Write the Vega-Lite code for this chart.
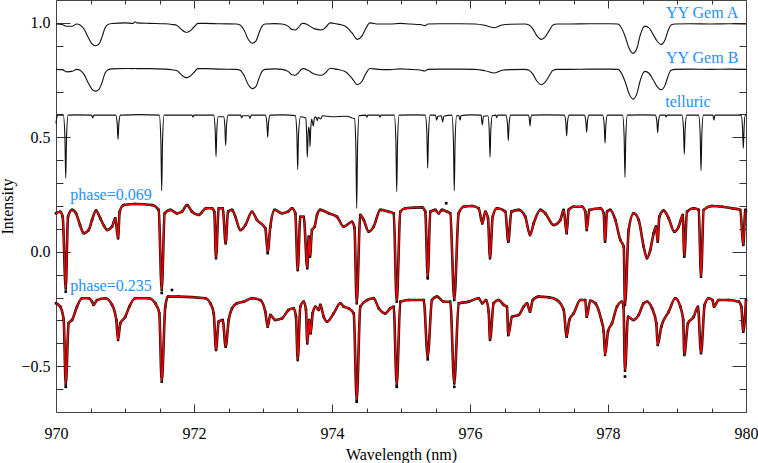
{
  "$schema": "https://vega.github.io/schema/vega-lite/v6.json",
  "width": 690,
  "height": 412,
  "autosize": {"type": "none"},
  "padding": {"left": 56, "top": 0, "right": 12, "bottom": 51},
  "background": "white",
  "config": {
    "view": {"stroke": null},
    "axis": {"grid": false, "domainColor": "#444", "tickColor": "#333", "domainWidth": 1, "tickWidth": 1,
      "labelFont": "Liberation Serif, DejaVu Serif, serif", "labelFontSize": 16, "labelColor": "#000",
      "titleFont": "Liberation Serif, DejaVu Serif, serif", "titleFontSize": 16, "titleFontWeight": "normal", "titleColor": "#000"}
  },
  "datasets": {
    "A": [
      {"w":970.000,"v":0.995},{"w":970.087,"v":0.993},{"w":970.159,"v":0.985},{"w":970.232,"v":0.985},{"w":970.300,"v":0.995},
      {"w":970.348,"v":0.991},{"w":970.406,"v":0.973},{"w":970.464,"v":0.938},{"w":970.522,"v":0.908},{"w":970.575,"v":0.900},
      {"w":970.623,"v":0.908},{"w":970.667,"v":0.938},{"w":970.710,"v":0.978},{"w":970.754,"v":0.993},{"w":970.812,"v":0.997},
      {"w":971.000,"v":1.000},{"w":971.116,"v":0.998},{"w":971.145,"v":1.005},{"w":971.174,"v":1.000},{"w":971.362,"v":0.998},
      {"w":971.580,"v":0.996},{"w":971.681,"v":0.993},{"w":971.754,"v":0.989},{"w":971.812,"v":0.973},{"w":971.870,"v":0.960},
      {"w":971.899,"v":0.959},{"w":971.942,"v":0.965},{"w":972.000,"v":0.982},{"w":972.058,"v":0.998},{"w":972.159,"v":0.998},
      {"w":972.377,"v":0.996},{"w":972.609,"v":0.995},{"w":972.667,"v":0.991},{"w":972.725,"v":0.969},{"w":972.783,"v":0.930},
      {"w":972.845,"v":0.911},{"w":972.899,"v":0.921},{"w":972.942,"v":0.956},{"w":972.986,"v":0.986},{"w":973.029,"v":0.995},
      {"w":973.174,"v":0.997},{"w":973.275,"v":0.995},{"w":973.362,"v":0.986},{"w":973.420,"v":0.971},{"w":973.464,"v":0.969},
      {"w":973.507,"v":0.978},{"w":973.565,"v":0.997},{"w":973.584,"v":0.998},{"w":973.652,"v":0.991},{"w":973.739,"v":0.975},
      {"w":973.851,"v":0.969},{"w":973.913,"v":0.982},{"w":973.971,"v":1.000},{"w":974.058,"v":0.996},{"w":974.188,"v":0.986},
      {"w":974.290,"v":0.956},{"w":974.367,"v":0.928},{"w":974.435,"v":0.943},{"w":974.493,"v":0.978},{"w":974.551,"v":1.000},
      {"w":974.667,"v":0.995},{"w":974.841,"v":0.995},{"w":974.986,"v":0.998},{"w":975.130,"v":0.995},{"w":975.275,"v":0.993},
      {"w":975.348,"v":0.988},{"w":975.391,"v":0.995},{"w":975.565,"v":0.996},{"w":975.855,"v":0.996},{"w":976.072,"v":0.995},
      {"w":976.217,"v":0.989},{"w":976.358,"v":0.979},{"w":976.464,"v":0.991},{"w":976.580,"v":0.994},{"w":976.797,"v":0.995},
      {"w":976.855,"v":0.991},{"w":976.913,"v":0.973},{"w":976.971,"v":0.943},{"w":977.033,"v":0.928},{"w":977.087,"v":0.938},
      {"w":977.145,"v":0.965},{"w":977.203,"v":0.991},{"w":977.261,"v":0.995},{"w":977.449,"v":0.995},{"w":977.739,"v":0.996},
      {"w":978.029,"v":0.996},{"w":978.145,"v":0.995},{"w":978.188,"v":0.982},{"w":978.246,"v":0.943},{"w":978.304,"v":0.890},
      {"w":978.362,"v":0.867},{"w":978.420,"v":0.890},{"w":978.464,"v":0.943},{"w":978.507,"v":0.978},{"w":978.536,"v":0.986},
      {"w":978.594,"v":0.978},{"w":978.652,"v":0.951},{"w":978.710,"v":0.921},{"w":978.772,"v":0.906},{"w":978.826,"v":0.925},
      {"w":978.870,"v":0.965},{"w":978.913,"v":0.991},{"w":978.971,"v":0.995},{"w":979.188,"v":0.996},{"w":979.478,"v":0.995},
      {"w":979.768,"v":0.996},{"w":980.000,"v":0.995}
    ],
    "B": [
      {"w":970.000,"v":0.797},{"w":970.087,"v":0.795},{"w":970.159,"v":0.786},{"w":970.232,"v":0.788},{"w":970.300,"v":0.797},
      {"w":970.348,"v":0.793},{"w":970.406,"v":0.775},{"w":970.464,"v":0.740},{"w":970.522,"v":0.710},{"w":970.575,"v":0.702},
      {"w":970.623,"v":0.710},{"w":970.667,"v":0.740},{"w":970.710,"v":0.780},{"w":970.754,"v":0.795},{"w":970.812,"v":0.799},
      {"w":971.000,"v":0.801},{"w":971.116,"v":0.800},{"w":971.145,"v":0.801},{"w":971.174,"v":0.800},{"w":971.362,"v":0.800},
      {"w":971.580,"v":0.798},{"w":971.681,"v":0.795},{"w":971.754,"v":0.791},{"w":971.812,"v":0.775},{"w":971.870,"v":0.762},
      {"w":971.899,"v":0.761},{"w":971.942,"v":0.767},{"w":972.000,"v":0.784},{"w":972.058,"v":0.800},{"w":972.159,"v":0.800},
      {"w":972.377,"v":0.798},{"w":972.609,"v":0.797},{"w":972.667,"v":0.793},{"w":972.725,"v":0.771},{"w":972.783,"v":0.732},
      {"w":972.845,"v":0.713},{"w":972.899,"v":0.723},{"w":972.942,"v":0.758},{"w":972.986,"v":0.788},{"w":973.029,"v":0.797},
      {"w":973.174,"v":0.799},{"w":973.275,"v":0.797},{"w":973.362,"v":0.788},{"w":973.420,"v":0.773},{"w":973.464,"v":0.771},
      {"w":973.507,"v":0.780},{"w":973.565,"v":0.799},{"w":973.584,"v":0.800},{"w":973.652,"v":0.793},{"w":973.739,"v":0.777},
      {"w":973.851,"v":0.771},{"w":973.913,"v":0.784},{"w":973.971,"v":0.802},{"w":974.058,"v":0.798},{"w":974.188,"v":0.788},
      {"w":974.290,"v":0.758},{"w":974.367,"v":0.730},{"w":974.435,"v":0.745},{"w":974.493,"v":0.780},{"w":974.551,"v":0.801},
      {"w":974.667,"v":0.797},{"w":974.841,"v":0.796},{"w":974.986,"v":0.799},{"w":975.130,"v":0.797},{"w":975.275,"v":0.794},
      {"w":975.348,"v":0.790},{"w":975.391,"v":0.797},{"w":975.565,"v":0.798},{"w":975.855,"v":0.798},{"w":976.072,"v":0.797},
      {"w":976.217,"v":0.791},{"w":976.358,"v":0.781},{"w":976.464,"v":0.793},{"w":976.580,"v":0.796},{"w":976.797,"v":0.797},
      {"w":976.855,"v":0.793},{"w":976.913,"v":0.775},{"w":976.971,"v":0.745},{"w":977.033,"v":0.730},{"w":977.087,"v":0.740},
      {"w":977.145,"v":0.767},{"w":977.203,"v":0.793},{"w":977.261,"v":0.797},{"w":977.449,"v":0.797},{"w":977.739,"v":0.798},
      {"w":978.029,"v":0.798},{"w":978.145,"v":0.797},{"w":978.188,"v":0.784},{"w":978.246,"v":0.745},{"w":978.304,"v":0.692},
      {"w":978.362,"v":0.667},{"w":978.420,"v":0.692},{"w":978.464,"v":0.745},{"w":978.507,"v":0.780},{"w":978.536,"v":0.788},
      {"w":978.594,"v":0.780},{"w":978.652,"v":0.753},{"w":978.710,"v":0.723},{"w":978.772,"v":0.708},{"w":978.826,"v":0.727},
      {"w":978.870,"v":0.767},{"w":978.913,"v":0.793},{"w":978.971,"v":0.797},{"w":979.188,"v":0.798},{"w":979.478,"v":0.797},
      {"w":979.768,"v":0.798},{"w":980.000,"v":0.797}
    ],
    "T": [
      {"w":970.000,"v":0.560},{"w":970.010,"v":0.585},{"w":970.030,"v":0.597},{"w":970.106,"v":0.597},{"w":970.129,"v":0.501},
      {"w":970.141,"v":0.322},{"w":970.153,"v":0.501},{"w":970.176,"v":0.597},{"w":970.300,"v":0.598},{"w":970.515,"v":0.597},
      {"w":970.532,"v":0.585},{"w":970.549,"v":0.597},{"w":970.864,"v":0.597},{"w":970.887,"v":0.560},{"w":970.899,"v":0.491},
      {"w":970.911,"v":0.560},{"w":970.934,"v":0.597},{"w":971.200,"v":0.599},{"w":971.497,"v":0.597},{"w":971.520,"v":0.482},
      {"w":971.532,"v":0.267},{"w":971.544,"v":0.482},{"w":971.567,"v":0.597},{"w":971.970,"v":0.597},{"w":971.986,"v":0.588},
      {"w":972.000,"v":0.597},{"w":972.284,"v":0.597},{"w":972.307,"v":0.533},{"w":972.319,"v":0.415},{"w":972.331,"v":0.533},
      {"w":972.350,"v":0.590},{"w":972.430,"v":0.590},{"w":972.447,"v":0.550},{"w":972.459,"v":0.464},{"w":972.471,"v":0.550},
      {"w":972.494,"v":0.597},{"w":972.675,"v":0.597},{"w":972.691,"v":0.585},{"w":972.705,"v":0.594},{"w":972.795,"v":0.594},
      {"w":972.812,"v":0.583},{"w":972.830,"v":0.597},{"w":973.033,"v":0.597},{"w":973.056,"v":0.563},{"w":973.068,"v":0.500},
      {"w":973.080,"v":0.563},{"w":973.103,"v":0.597},{"w":973.300,"v":0.598},{"w":973.468,"v":0.595},{"w":973.491,"v":0.514},
      {"w":973.503,"v":0.360},{"w":973.515,"v":0.514},{"w":973.545,"v":0.590},{"w":973.620,"v":0.585},{"w":973.632,"v":0.520},
      {"w":973.642,"v":0.413},{"w":973.655,"v":0.520},{"w":973.662,"v":0.545},{"w":973.672,"v":0.530},{"w":973.681,"v":0.459},
      {"w":973.692,"v":0.540},{"w":973.705,"v":0.580},{"w":973.729,"v":0.550},{"w":973.745,"v":0.585},{"w":973.765,"v":0.590},
      {"w":973.787,"v":0.573},{"w":973.800,"v":0.588},{"w":973.836,"v":0.580},{"w":973.860,"v":0.594},{"w":974.000,"v":0.590},
      {"w":974.200,"v":0.592},{"w":974.270,"v":0.588},{"w":974.286,"v":0.585},{"w":974.325,"v":0.582},{"w":974.346,"v":0.455},
      {"w":974.358,"v":0.190},{"w":974.370,"v":0.455},{"w":974.393,"v":0.595},{"w":974.490,"v":0.597},{"w":974.507,"v":0.588},
      {"w":974.520,"v":0.597},{"w":974.680,"v":0.597},{"w":974.696,"v":0.588},{"w":974.710,"v":0.597},{"w":974.903,"v":0.597},
      {"w":974.926,"v":0.480},{"w":974.938,"v":0.263},{"w":974.950,"v":0.480},{"w":974.973,"v":0.597},{"w":975.200,"v":0.598},
      {"w":975.352,"v":0.597},{"w":975.375,"v":0.516},{"w":975.387,"v":0.365},{"w":975.399,"v":0.516},{"w":975.422,"v":0.597},
      {"w":975.500,"v":0.597},{"w":975.517,"v":0.575},{"w":975.535,"v":0.592},{"w":975.585,"v":0.594},{"w":975.604,"v":0.567},
      {"w":975.620,"v":0.592},{"w":975.737,"v":0.597},{"w":975.760,"v":0.481},{"w":975.772,"v":0.266},{"w":975.784,"v":0.481},
      {"w":975.807,"v":0.595},{"w":975.840,"v":0.594},{"w":975.855,"v":0.575},{"w":975.870,"v":0.595},{"w":976.000,"v":0.598},
      {"w":976.160,"v":0.597},{"w":976.178,"v":0.554},{"w":976.195,"v":0.592},{"w":976.260,"v":0.594},{"w":976.278,"v":0.533},
      {"w":976.290,"v":0.413},{"w":976.302,"v":0.533},{"w":976.325,"v":0.595},{"w":976.375,"v":0.597},{"w":976.387,"v":0.585},
      {"w":976.400,"v":0.597},{"w":976.520,"v":0.597},{"w":976.543,"v":0.558},{"w":976.555,"v":0.485},{"w":976.567,"v":0.558},
      {"w":976.590,"v":0.597},{"w":976.845,"v":0.597},{"w":976.862,"v":0.575},{"w":976.870,"v":0.550},{"w":976.878,"v":0.575},
      {"w":976.895,"v":0.597},{"w":977.100,"v":0.598},{"w":977.366,"v":0.597},{"w":977.389,"v":0.565},{"w":977.401,"v":0.506},
      {"w":977.413,"v":0.565},{"w":977.436,"v":0.597},{"w":977.656,"v":0.597},{"w":977.679,"v":0.571},{"w":977.691,"v":0.522},
      {"w":977.703,"v":0.571},{"w":977.726,"v":0.597},{"w":977.922,"v":0.597},{"w":977.945,"v":0.554},{"w":977.957,"v":0.474},
      {"w":977.969,"v":0.554},{"w":977.992,"v":0.597},{"w":978.211,"v":0.597},{"w":978.234,"v":0.502},{"w":978.246,"v":0.325},
      {"w":978.258,"v":0.502},{"w":978.281,"v":0.597},{"w":978.500,"v":0.598},{"w":978.685,"v":0.597},{"w":978.708,"v":0.570},
      {"w":978.720,"v":0.520},{"w":978.732,"v":0.570},{"w":978.755,"v":0.597},{"w":978.830,"v":0.597},{"w":978.841,"v":0.588},
      {"w":978.855,"v":0.597},{"w":979.071,"v":0.597},{"w":979.094,"v":0.537},{"w":979.106,"v":0.426},{"w":979.118,"v":0.537},
      {"w":979.141,"v":0.597},{"w":979.313,"v":0.597},{"w":979.336,"v":0.512},{"w":979.348,"v":0.354},{"w":979.360,"v":0.512},
      {"w":979.383,"v":0.597},{"w":979.520,"v":0.597},{"w":979.536,"v":0.575},{"w":979.550,"v":0.597},{"w":979.800,"v":0.597},
      {"w":979.930,"v":0.597},{"w":979.949,"v":0.546},{"w":979.961,"v":0.452},{"w":979.973,"v":0.546},{"w":979.990,"v":0.597},
      {"w":980.000,"v":0.597}
    ],
    "P1": [
      {"w":970.000,"v":0.168},{"w":970.062,"v":0.175},{"w":970.097,"v":0.153},{"w":970.141,"v":-0.160},{"w":970.174,"v":0.153},
      {"w":970.232,"v":0.183},{"w":970.290,"v":0.168},{"w":970.348,"v":0.117},{"w":970.401,"v":0.081},{"w":970.474,"v":0.095},
      {"w":970.522,"v":0.139},{"w":970.580,"v":0.180},{"w":970.642,"v":0.146},{"w":970.696,"v":0.113},{"w":970.739,"v":0.095},
      {"w":970.812,"v":0.110},{"w":970.859,"v":0.146},{"w":970.899,"v":0.059},{"w":970.923,"v":0.175},{"w":970.981,"v":0.204},
      {"w":971.149,"v":0.209},{"w":971.391,"v":0.204},{"w":971.488,"v":0.183},{"w":971.532,"v":-0.167},{"w":971.575,"v":0.168},
      {"w":971.657,"v":0.183},{"w":971.754,"v":0.168},{"w":971.826,"v":0.175},{"w":971.899,"v":0.204},{"w":971.971,"v":0.175},
      {"w":972.068,"v":0.161},{"w":972.174,"v":0.190},{"w":972.261,"v":0.190},{"w":972.294,"v":0.174},{"w":972.319,"v":-0.028},
      {"w":972.358,"v":0.190},{"w":972.416,"v":0.190},{"w":972.459,"v":0.037},{"w":972.493,"v":0.175},{"w":972.551,"v":0.183},
      {"w":972.599,"v":0.153},{"w":972.671,"v":0.095},{"w":972.744,"v":0.117},{"w":972.841,"v":0.175},{"w":972.913,"v":0.139},
      {"w":973.033,"v":0.103},{"w":973.068,"v":0.000},{"w":973.106,"v":0.110},{"w":973.170,"v":0.183},{"w":973.275,"v":0.168},
      {"w":973.362,"v":0.175},{"w":973.420,"v":0.190},{"w":973.468,"v":0.168},{"w":973.503,"v":-0.080},{"w":973.541,"v":0.153},
      {"w":973.590,"v":0.153},{"w":973.642,"v":-0.072},{"w":973.662,"v":0.066},{"w":973.681,"v":-0.021},{"w":973.710,"v":0.095},
      {"w":973.749,"v":0.110},{"w":973.783,"v":0.161},{"w":973.830,"v":0.183},{"w":973.952,"v":0.168},{"w":974.072,"v":0.153},
      {"w":974.170,"v":0.110},{"w":974.290,"v":0.131},{"w":974.326,"v":0.104},{"w":974.358,"v":-0.225},{"w":974.410,"v":0.161},
      {"w":974.459,"v":0.139},{"w":974.532,"v":0.088},{"w":974.604,"v":0.110},{"w":974.700,"v":0.183},{"w":974.822,"v":0.175},
      {"w":974.894,"v":0.168},{"w":974.938,"v":-0.218},{"w":974.990,"v":0.175},{"w":975.062,"v":0.190},{"w":975.304,"v":0.194},
      {"w":975.352,"v":0.175},{"w":975.387,"v":-0.109},{"w":975.425,"v":0.175},{"w":975.497,"v":0.183},{"w":975.546,"v":0.168},
      {"w":975.594,"v":0.183},{"w":975.667,"v":0.175},{"w":975.714,"v":0.168},{"w":975.772,"v":-0.211},{"w":975.836,"v":0.168},
      {"w":975.909,"v":0.197},{"w":976.029,"v":0.200},{"w":976.126,"v":0.190},{"w":976.178,"v":0.124},{"w":976.222,"v":0.175},
      {"w":976.261,"v":0.146},{"w":976.290,"v":-0.028},{"w":976.329,"v":0.153},{"w":976.391,"v":0.190},{"w":976.512,"v":0.175},
      {"w":976.555,"v":0.044},{"w":976.599,"v":0.175},{"w":976.706,"v":0.183},{"w":976.801,"v":0.153},{"w":976.870,"v":0.073},
      {"w":976.923,"v":0.124},{"w":977.019,"v":0.183},{"w":977.091,"v":0.168},{"w":977.213,"v":0.117},{"w":977.309,"v":0.139},
      {"w":977.358,"v":0.183},{"w":977.401,"v":0.081},{"w":977.430,"v":0.183},{"w":977.503,"v":0.197},{"w":977.623,"v":0.197},
      {"w":977.671,"v":0.175},{"w":977.691,"v":0.095},{"w":977.729,"v":0.183},{"w":977.888,"v":0.190},{"w":977.938,"v":0.168},
      {"w":977.957,"v":0.044},{"w":977.986,"v":0.175},{"w":978.033,"v":0.183},{"w":978.106,"v":0.139},{"w":978.178,"v":0.052},
      {"w":978.228,"v":0.022},{"w":978.246,"v":-0.232},{"w":978.300,"v":0.095},{"w":978.372,"v":0.168},{"w":978.445,"v":0.139},
      {"w":978.517,"v":0.022},{"w":978.565,"v":-0.028},{"w":978.613,"v":0.008},{"w":978.662,"v":0.081},{"w":978.696,"v":0.110},
      {"w":978.720,"v":0.044},{"w":978.744,"v":0.153},{"w":978.807,"v":0.180},{"w":978.880,"v":0.146},{"w":978.961,"v":0.088},
      {"w":979.025,"v":0.110},{"w":979.083,"v":0.161},{"w":979.106,"v":-0.021},{"w":979.145,"v":0.175},{"w":979.242,"v":0.190},
      {"w":979.315,"v":0.183},{"w":979.348,"v":-0.109},{"w":979.387,"v":0.183},{"w":979.507,"v":0.200},{"w":979.652,"v":0.197},
      {"w":979.797,"v":0.190},{"w":979.917,"v":0.183},{"w":979.961,"v":0.030},{"w":979.990,"v":0.183},{"w":980.000,"v":0.178}
    ],
    "P2": [
      {"w":970.000,"v":-0.225},{"w":970.062,"v":-0.240},{"w":970.112,"v":-0.298},{"w":970.141,"v":-0.580},{"w":970.184,"v":-0.312},
      {"w":970.232,"v":-0.298},{"w":970.304,"v":-0.240},{"w":970.377,"v":-0.203},{"w":970.474,"v":-0.203},{"w":970.522,"v":-0.218},
      {"w":970.546,"v":-0.232},{"w":970.594,"v":-0.211},{"w":970.714,"v":-0.203},{"w":970.812,"v":-0.232},{"w":970.874,"v":-0.298},
      {"w":970.899,"v":-0.385},{"w":970.932,"v":-0.312},{"w":971.004,"v":-0.284},{"w":971.062,"v":-0.240},{"w":971.149,"v":-0.203},
      {"w":971.344,"v":-0.203},{"w":971.439,"v":-0.225},{"w":971.497,"v":-0.269},{"w":971.532,"v":-0.568},{"w":971.584,"v":-0.240},
      {"w":971.623,"v":-0.196},{"w":971.778,"v":-0.196},{"w":972.164,"v":-0.203},{"w":972.236,"v":-0.225},{"w":972.286,"v":-0.269},
      {"w":972.319,"v":-0.429},{"w":972.358,"v":-0.305},{"w":972.416,"v":-0.298},{"w":972.459,"v":-0.415},{"w":972.503,"v":-0.298},
      {"w":972.551,"v":-0.247},{"w":972.623,"v":-0.225},{"w":972.720,"v":-0.218},{"w":972.841,"v":-0.203},{"w":972.961,"v":-0.211},
      {"w":973.033,"v":-0.262},{"w":973.068,"v":-0.327},{"w":973.106,"v":-0.276},{"w":973.178,"v":-0.298},{"w":973.275,"v":-0.291},
      {"w":973.372,"v":-0.254},{"w":973.445,"v":-0.247},{"w":973.478,"v":-0.284},{"w":973.503,"v":-0.473},{"w":973.541,"v":-0.240},
      {"w":973.590,"v":-0.218},{"w":973.623,"v":-0.254},{"w":973.642,"v":-0.400},{"w":973.671,"v":-0.298},{"w":973.691,"v":-0.356},
      {"w":973.720,"v":-0.269},{"w":973.758,"v":-0.240},{"w":973.807,"v":-0.254},{"w":973.830,"v":-0.232},{"w":973.880,"v":-0.284},
      {"w":973.928,"v":-0.305},{"w":974.025,"v":-0.269},{"w":974.120,"v":-0.225},{"w":974.170,"v":-0.240},{"w":974.242,"v":-0.247},
      {"w":974.315,"v":-0.269},{"w":974.358,"v":-0.647},{"w":974.410,"v":-0.240},{"w":974.507,"v":-0.211},{"w":974.604,"v":-0.203},
      {"w":974.677,"v":-0.247},{"w":974.772,"v":-0.269},{"w":974.845,"v":-0.247},{"w":974.894,"v":-0.240},{"w":974.938,"v":-0.582},
      {"w":974.990,"v":-0.218},{"w":975.112,"v":-0.211},{"w":975.329,"v":-0.211},{"w":975.387,"v":-0.458},{"w":975.449,"v":-0.211},
      {"w":975.522,"v":-0.196},{"w":975.619,"v":-0.218},{"w":975.714,"v":-0.218},{"w":975.772,"v":-0.575},{"w":975.836,"v":-0.225},
      {"w":975.981,"v":-0.218},{"w":976.126,"v":-0.203},{"w":976.178,"v":-0.225},{"w":976.232,"v":-0.211},{"w":976.271,"v":-0.262},
      {"w":976.290,"v":-0.385},{"w":976.343,"v":-0.225},{"w":976.416,"v":-0.211},{"w":976.488,"v":-0.232},{"w":976.536,"v":-0.240},
      {"w":976.555,"v":-0.364},{"w":976.609,"v":-0.284},{"w":976.706,"v":-0.276},{"w":976.778,"v":-0.240},{"w":976.826,"v":-0.225},
      {"w":976.870,"v":-0.262},{"w":976.909,"v":-0.211},{"w":976.996,"v":-0.196},{"w":977.141,"v":-0.199},{"w":977.261,"v":-0.211},
      {"w":977.358,"v":-0.254},{"w":977.401,"v":-0.371},{"w":977.439,"v":-0.298},{"w":977.503,"v":-0.269},{"w":977.599,"v":-0.211},
      {"w":977.671,"v":-0.211},{"w":977.691,"v":-0.284},{"w":977.743,"v":-0.214},{"w":977.816,"v":-0.225},{"w":977.903,"v":-0.298},
      {"w":977.938,"v":-0.349},{"w":977.957,"v":-0.451},{"w":978.000,"v":-0.349},{"w":978.058,"v":-0.312},{"w":978.130,"v":-0.240},
      {"w":978.203,"v":-0.218},{"w":978.225,"v":-0.240},{"w":978.246,"v":-0.520},{"w":978.290,"v":-0.284},{"w":978.372,"v":-0.298},
      {"w":978.445,"v":-0.276},{"w":978.517,"v":-0.225},{"w":978.565,"v":-0.218},{"w":978.638,"v":-0.247},{"w":978.700,"v":-0.312},
      {"w":978.720,"v":-0.407},{"w":978.772,"v":-0.327},{"w":978.880,"v":-0.262},{"w":978.975,"v":-0.203},{"w":979.048,"v":-0.240},
      {"w":979.090,"v":-0.298},{"w":979.106,"v":-0.451},{"w":979.159,"v":-0.312},{"w":979.242,"v":-0.284},{"w":979.304,"v":-0.240},
      {"w":979.348,"v":-0.443},{"w":979.401,"v":-0.232},{"w":979.459,"v":-0.203},{"w":979.515,"v":-0.211},{"w":979.536,"v":-0.240},
      {"w":979.604,"v":-0.211},{"w":979.749,"v":-0.211},{"w":979.894,"v":-0.218},{"w":979.932,"v":-0.240},{"w":979.961,"v":-0.349},
      {"w":980.000,"v":-0.211}
    ],
    "Out": [
      {"w":970.141,"v":-0.174},{"w":971.532,"v":-0.180},{"w":975.387,"v":-0.116},{"w":975.655,"v":0.212},{"w":973.068,"v":-0.006},
      {"w":974.358,"v":-0.655},{"w":978.246,"v":-0.545},{"w":971.681,"v":-0.167},{"w":975.772,"v":-0.590},{"w":974.938,"v":-0.590},
      {"w":975.387,"v":-0.470},{"w":970.141,"v":-0.590}
    ],
    "Lab": [
      {"w":978.841,"v":1.021,"t":"YY Gem A"},
      {"w":978.841,"v":0.826,"t":"YY Gem B"},
      {"w":978.830,"v":0.631,"t":"telluric"},
      {"w":970.207,"v":0.228,"t":"phase=0.069"},
      {"w":970.207,"v":-0.171,"t":"phase=0.235"}
    ]
  },
  "resolve": {"axis": {"x": "independent", "y": "independent"}},
  "layer": [
    {
      "data": {"name": "A"},
      "mark": {"type": "line", "color": "#111", "strokeWidth": 1.1, "interpolate": "monotone"},
      "encoding": {
        "x": {"field": "w", "type": "quantitative", "scale": {"domain": [970, 980], "nice": false, "zero": false},
          "axis": {"orient": "bottom", "values": [970, 972, 974, 976, 978, 980], "format": "d", "tickSize": -8, "labelPadding": 21,
            "labelFlush": false, "labelOverlap": false, "title": "Wavelength (nm)", "titleBaseline": "alphabetic", "titleY": 47}},
        "y": {"field": "v", "type": "quantitative", "scale": {"domain": [-0.7, 1.1], "nice": false, "zero": false},
          "axis": {"orient": "left", "values": [-0.5, 0, 0.5, 1], "format": ".1f", "tickSize": -14, "labelPadding": 20,
            "labelFlush": false, "labelOverlap": false, "title": "Intensity", "titleBaseline": "alphabetic", "titleX": -44, "titleY": 206, "titleAngle": -90}}
      }
    },
    {
      "data": {"name": "B"},
      "mark": {"type": "line", "color": "#111", "strokeWidth": 1.1, "interpolate": "monotone"},
      "encoding": {
        "x": {"field": "w", "type": "quantitative", "scale": {"domain": [970, 980], "nice": false, "zero": false},
          "axis": {"orient": "bottom", "values": [970.5, 971, 971.5, 972.5, 973, 973.5, 974.5, 975, 975.5, 976.5, 977, 977.5, 978.5, 979, 979.5],
            "tickSize": -4, "labels": false, "domain": false, "title": null}},
        "y": {"field": "v", "type": "quantitative", "scale": {"domain": [-0.7, 1.1], "nice": false, "zero": false},
          "axis": {"orient": "left", "values": [-0.6, -0.4, -0.3, -0.2, -0.1, 0.1, 0.2, 0.3, 0.4, 0.6, 0.7, 0.8, 0.9],
            "tickSize": -7, "labels": false, "domain": false, "title": null}}
      }
    },
    {
      "data": {"name": "T"},
      "mark": {"type": "line", "color": "#111", "strokeWidth": 1.1, "interpolate": "monotone"},
      "encoding": {
        "x": {"field": "w", "type": "quantitative", "scale": {"domain": [970, 980], "nice": false, "zero": false},
          "axis": {"orient": "top", "values": [970, 972, 974, 976, 978, 980], "tickSize": -8, "labels": false, "title": null}},
        "y": {"field": "v", "type": "quantitative", "scale": {"domain": [-0.7, 1.1], "nice": false, "zero": false},
          "axis": {"orient": "right", "values": [-0.5, 0, 0.5, 1], "tickSize": -14, "labels": false, "title": null}}
      }
    },
    {
      "data": {"name": "P1"},
      "mark": {"type": "line", "color": "#111", "strokeWidth": 2.6, "interpolate": "monotone"},
      "encoding": {
        "x": {"field": "w", "type": "quantitative", "scale": {"domain": [970, 980], "nice": false, "zero": false},
          "axis": {"orient": "top", "values": [970.5, 971, 971.5, 972.5, 973, 973.5, 974.5, 975, 975.5, 976.5, 977, 977.5, 978.5, 979, 979.5],
            "tickSize": -4, "labels": false, "domain": false, "title": null}},
        "y": {"field": "v", "type": "quantitative", "scale": {"domain": [-0.7, 1.1], "nice": false, "zero": false},
          "axis": {"orient": "right", "values": [-0.6, -0.4, -0.3, -0.2, -0.1, 0.1, 0.2, 0.3, 0.4, 0.6, 0.7, 0.8, 0.9],
            "tickSize": -7, "labels": false, "domain": false, "title": null}}
      }
    },
    {
      "data": {"name": "P2"},
      "mark": {"type": "line", "color": "#111", "strokeWidth": 2.6, "interpolate": "monotone"},
      "encoding": {
        "x": {"field": "w", "type": "quantitative", "scale": {"domain": [970, 980], "nice": false, "zero": false}, "axis": null},
        "y": {"field": "v", "type": "quantitative", "scale": {"domain": [-0.7, 1.1], "nice": false, "zero": false}, "axis": null}
      }
    },
    {
      "data": {"name": "P1"},
      "mark": {"type": "point", "shape": "square", "filled": true, "color": "#000", "size": 6, "opacity": 1},
      "encoding": {
        "x": {"field": "w", "type": "quantitative", "scale": {"domain": [970, 980], "nice": false, "zero": false}, "axis": null},
        "y": {"field": "v", "type": "quantitative", "scale": {"domain": [-0.7, 1.1], "nice": false, "zero": false}, "axis": null}
      }
    },
    {
      "data": {"name": "P2"},
      "mark": {"type": "point", "shape": "square", "filled": true, "color": "#000", "size": 6, "opacity": 1},
      "encoding": {
        "x": {"field": "w", "type": "quantitative", "scale": {"domain": [970, 980], "nice": false, "zero": false}, "axis": null},
        "y": {"field": "v", "type": "quantitative", "scale": {"domain": [-0.7, 1.1], "nice": false, "zero": false}, "axis": null}
      }
    },
    {
      "data": {"name": "Out"},
      "mark": {"type": "point", "shape": "square", "filled": true, "color": "#000", "size": 7, "opacity": 1},
      "encoding": {
        "x": {"field": "w", "type": "quantitative", "scale": {"domain": [970, 980], "nice": false, "zero": false}, "axis": null},
        "y": {"field": "v", "type": "quantitative", "scale": {"domain": [-0.7, 1.1], "nice": false, "zero": false}, "axis": null}
      }
    },
    {
      "data": {"name": "P1"},
      "mark": {"type": "line", "color": "#ff0000", "strokeWidth": 1.4, "interpolate": "monotone"},
      "encoding": {
        "x": {"field": "w", "type": "quantitative", "scale": {"domain": [970, 980], "nice": false, "zero": false}, "axis": null},
        "y": {"field": "v", "type": "quantitative", "scale": {"domain": [-0.7, 1.1], "nice": false, "zero": false}, "axis": null}
      }
    },
    {
      "data": {"name": "P2"},
      "mark": {"type": "line", "color": "#ff0000", "strokeWidth": 1.4, "interpolate": "monotone"},
      "encoding": {
        "x": {"field": "w", "type": "quantitative", "scale": {"domain": [970, 980], "nice": false, "zero": false}, "axis": null},
        "y": {"field": "v", "type": "quantitative", "scale": {"domain": [-0.7, 1.1], "nice": false, "zero": false}, "axis": null}
      }
    },
    {
      "data": {"name": "Lab"},
      "mark": {"type": "text", "font": "Liberation Serif, DejaVu Serif, serif", "fontSize": 16, "color": "#1e90ff", "align": "left", "baseline": "alphabetic"},
      "encoding": {
        "x": {"field": "w", "type": "quantitative", "scale": {"domain": [970, 980], "nice": false, "zero": false}, "axis": null},
        "y": {"field": "v", "type": "quantitative", "scale": {"domain": [-0.7, 1.1], "nice": false, "zero": false}, "axis": null},
        "text": {"field": "t"}
      }
    }
  ]
}
